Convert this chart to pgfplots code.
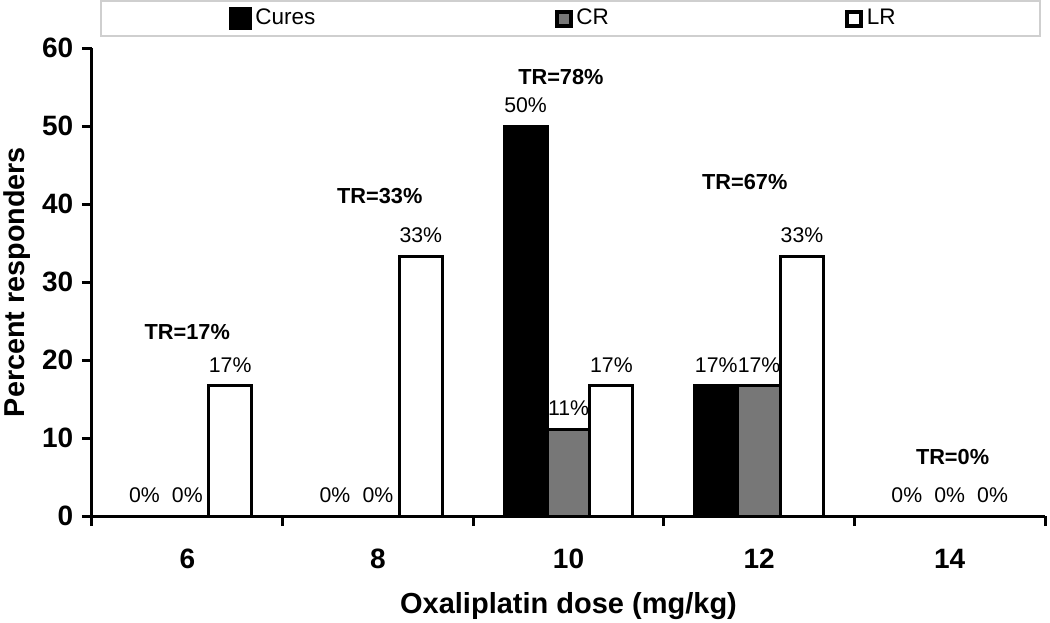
\documentclass[border=0pt]{standalone}
\usepackage{pgfplots}
\pgfplotsset{compat=1.18}
\usepackage{pgfplotstable}
\usepackage{fontspec}
\setmainfont{Liberation Sans}
\definecolor{crgray}{HTML}{777777}
\definecolor{legframe}{HTML}{CFCFCF}

\pgfplotstableread{
x y
6 0
8 0
10 50
12 16.7
14 0
}\curestab
\pgfplotstableread{
x y
6 0
8 0
10 11.1
12 16.7
14 0
}\crtab
\pgfplotstableread{
x y
6 16.7
8 33.3
10 16.7
12 33.3
14 0
}\lrtab

\begin{document}
\begin{tikzpicture}
\begin{axis}[
  scale only axis,
  width=381.2pt, height=187.2pt,
  xmin=5, xmax=15, ymin=0, ymax=60,
  axis lines=left,
  axis line style={-, line width=1.2pt},
  every tick/.style={black, line width=1.2pt},
  tick align=outside,
  major tick length=4pt, minor tick length=4pt,
  xtick={6,8,...,14},
  minor xtick={5,7,...,15},
  major x tick style={draw=none},
  ytick={0,10,...,60},
  ticklabel style={font=\bfseries\fontsize{11.2}{13}\selectfont},
  x tick label style={yshift=-5.8pt},
  /pgf/number format/assume math mode=true,
  xlabel={Oxaliplatin dose (mg/kg)},
  ylabel={Percent responders},
  x label style={at={(axis description cs:0.5,-0.1926)}, anchor=center, font=\bfseries\fontsize{11.6}{13}\selectfont},
  y label style={at={(axis description cs:-0.079,0.5)}, anchor=center, font=\bfseries\fontsize{11.5}{13}\selectfont},
  ybar=0pt, bar width=0.45,
  clip=false,
  nodes near coords={\pgfmathprintnumber[fixed,precision=0]{\pgfplotspointmeta}\%},
  every node near coord/.append style={font=\fontsize{8.5}{10}\selectfont, black, yshift=1.5pt},
  legend columns=3,
  legend style={at={(rel axis cs:0.0084,1.1026)}, anchor=north west, draw=legframe, line width=0.8pt,
    font=\fontsize{9}{10}\selectfont, inner xsep=51pt, inner ysep=1.2pt,
    nodes={inner xsep=1.5pt},
    /tikz/column 2/.style={column sep=94.2pt},
    /tikz/column 4/.style={column sep=93pt}},
]
\addplot[fill=black, draw=black, line width=1.2pt, bar shift=-0.45,
  legend image code/.code={\fill[black] (0pt,-4pt) rectangle (8pt,4pt);}]
  table[x=x,y=y] {\curestab};
\addlegendentry{Cures}
\addplot[fill=crgray, draw=black, line width=1.2pt, bar shift=0,
  legend image code/.code={\draw[fill=crgray, draw=black, line width=1.6pt] (0.8pt,-2.8pt) rectangle (6.4pt,2.8pt);}]
  table[x=x,y=y] {\crtab};
\addlegendentry{CR}
\addplot[fill=white, draw=black, line width=1.2pt, bar shift=0.45,
  legend image code/.code={\draw[fill=white, draw=black, line width=1.6pt] (0.8pt,-2.8pt) rectangle (6.4pt,2.8pt);}]
  table[x=x,y=y] {\lrtab};
\addlegendentry{LR\rule{5.2pt}{0pt}}
\node[font=\bfseries\fontsize{8.7}{10}\selectfont] at (axis cs:6,23.6) {TR=17\%};
\node[font=\bfseries\fontsize{8.7}{10}\selectfont] at (axis cs:8.02,41.0) {TR=33\%};
\node[font=\bfseries\fontsize{8.7}{10}\selectfont] at (axis cs:9.92,56.3) {TR=78\%};
\node[font=\bfseries\fontsize{8.7}{10}\selectfont] at (axis cs:11.85,42.8) {TR=67\%};
\node[font=\bfseries\fontsize{8.7}{10}\selectfont] at (axis cs:14.03,7.6) {TR=0\%};
\end{axis}
\pgfresetboundingbox
\path (-36.8pt,-42.4pt) rectangle (383.2pt,206.4pt);
\end{tikzpicture}
\end{document}
